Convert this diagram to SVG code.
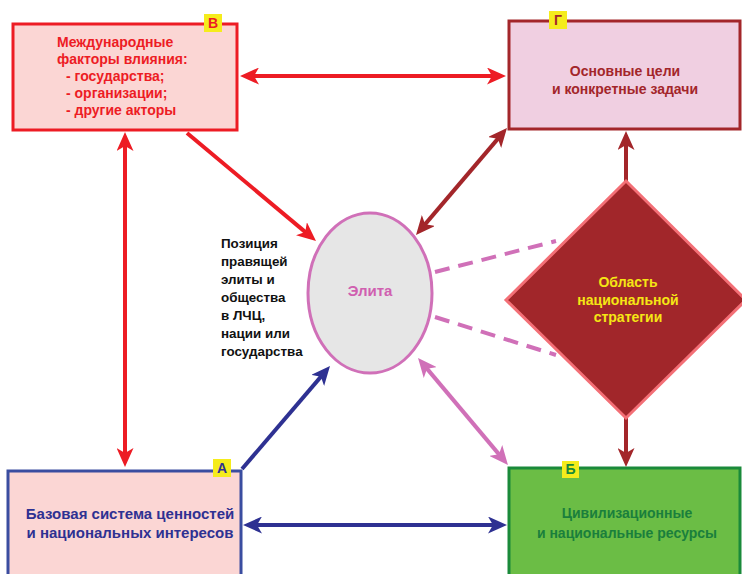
<svg xmlns="http://www.w3.org/2000/svg" width="742" height="574" viewBox="0 0 742 574">
<style>
text{font-family:"Liberation Sans",Arial,sans-serif;font-weight:bold;font-size:14px}
.box{stroke-width:3}
.tag{fill:#f5ec1c}
.c{text-anchor:middle}
.ln{fill:none;stroke-width:4}
.pos{font-size:13.4px}
</style>
<defs>
<marker id="mr" markerUnits="userSpaceOnUse" markerWidth="19" markerHeight="17" viewBox="0 0 19 17" refX="13" refY="8.5" orient="auto-start-reverse"><path d="M0,0 L19,8.5 L0,17 L5,8.5 z" fill="#ed1c24"/></marker>
<marker id="md" markerUnits="userSpaceOnUse" markerWidth="19" markerHeight="17" viewBox="0 0 19 17" refX="13" refY="8.5" orient="auto-start-reverse"><path d="M0,0 L19,8.5 L0,17 L5,8.5 z" fill="#a3262a"/></marker>
<marker id="mb" markerUnits="userSpaceOnUse" markerWidth="19" markerHeight="17" viewBox="0 0 19 17" refX="13" refY="8.5" orient="auto-start-reverse"><path d="M0,0 L19,8.5 L0,17 L5,8.5 z" fill="#2e3192"/></marker>
<marker id="mp" markerUnits="userSpaceOnUse" markerWidth="19" markerHeight="17" viewBox="0 0 19 17" refX="13" refY="8.5" orient="auto-start-reverse"><path d="M0,0 L19,8.5 L0,17 L5,8.5 z" fill="#d070b8"/></marker>
</defs>
<rect width="742" height="574" fill="#ffffff"/>

<g id="connectors">
<line class="ln" x1="246" y1="76" x2="500" y2="76" stroke="#ed1c24" marker-start="url(#mr)" marker-end="url(#mr)"/>
<line class="ln" x1="125" y1="138" x2="125" y2="461" stroke="#ed1c24" marker-start="url(#mr)" marker-end="url(#mr)"/>
<line class="ln" x1="187" y1="133" x2="311.4" y2="237.1" stroke="#ed1c24" marker-end="url(#mr)"/>
<line class="ln" x1="503.1" y1="132.6" x2="419.9" y2="230.4" stroke="#a3262a" marker-start="url(#md)" marker-end="url(#md)"/>
<line class="ln" x1="242" y1="469" x2="326.1" y2="370.6" stroke="#2e3192" marker-end="url(#mb)"/>
<line class="ln" x1="421.9" y1="362.6" x2="504.1" y2="460.4" stroke="#d070b8" marker-start="url(#mp)" marker-end="url(#mp)"/>
<line class="ln" x1="249" y1="525" x2="501" y2="525" stroke="#2e3192" marker-start="url(#mb)" marker-end="url(#mb)"/>
<line class="ln" x1="626" y1="181" x2="626" y2="137" stroke="#a3262a" marker-end="url(#md)"/>
<line class="ln" x1="626" y1="418" x2="626" y2="461" stroke="#a3262a" marker-end="url(#md)"/>
<line class="ln" x1="435" y1="272" x2="556" y2="241" stroke="#d070b8" stroke-dasharray="15 9"/>
<line class="ln" x1="435" y1="317" x2="556" y2="355" stroke="#d070b8" stroke-dasharray="15 9"/>
</g>

<g id="nodeV">
<rect class="box" x="13" y="24" width="224" height="106" fill="#fbd6d4" stroke="#ed1c24"/>
<rect class="tag" x="204" y="14" width="18" height="18"/>
<text x="213" y="28" class="c" fill="#ed1c24">В</text>
<text fill="#ed1c24" x="57" y="47">Международные</text>
<text fill="#ed1c24" x="57" y="64">факторы влияния:</text>
<text fill="#ed1c24" x="66" y="81">- государства;</text>
<text fill="#ed1c24" x="66" y="98">- организации;</text>
<text fill="#ed1c24" x="66" y="115">- другие акторы</text>
</g>

<g id="nodeG">
<rect class="box" x="509" y="21" width="231" height="108" fill="#f0cfe1" stroke="#a3262a"/>
<rect class="tag" x="549" y="11" width="18" height="18"/>
<text x="558" y="25" class="c" fill="#a3262a">Г</text>
<text x="625" y="76" class="c" fill="#a3262a">Основные цели</text>
<text x="625" y="94" class="c" fill="#a3262a">и конкретные задачи</text>
</g>

<g id="nodeA">
<rect class="box" x="8" y="471" width="233" height="110" fill="#fbd6d4" stroke="#3a4da0"/>
<rect class="tag" x="213" y="459" width="18" height="18"/>
<text x="222" y="473" class="c" fill="#2e3192">А</text>
<text x="130" y="519" class="c" fill="#2e3192" style="font-size:15px">Базовая система ценностей</text>
<text x="130" y="538" class="c" fill="#2e3192" style="font-size:15px">и национальных интересов</text>
</g>

<g id="nodeB">
<rect class="box" x="509" y="468" width="231" height="110" fill="#6bbd45" stroke="#1a8a3a"/>
<rect class="tag" x="562" y="461" width="17" height="17"/>
<text x="570.5" y="474" class="c" fill="#1a8a3a">Б</text>
<text x="627" y="518" class="c" fill="#1a7f3c">Цивилизационные</text>
<text x="627" y="538" class="c" fill="#1a7f3c">и национальные ресурсы</text>
</g>

<g id="nodeElite">
<ellipse cx="370" cy="293" rx="62" ry="80" fill="#e6e6e6" stroke="#d070b8" stroke-width="3"/>
<text x="370" y="296" class="c" fill="#d060b0" style="font-size:15px">Элита</text>
</g>

<g id="position">
<text class="pos" fill="#111111" x="221" y="248">Позиция</text>
<text class="pos" fill="#111111" x="221" y="266">правящей</text>
<text class="pos" fill="#111111" x="221" y="284">элиты и</text>
<text class="pos" fill="#111111" x="221" y="302">общества</text>
<text class="pos" fill="#111111" x="221" y="320">в ЛЧЦ,</text>
<text class="pos" fill="#111111" x="221" y="338">нации или</text>
<text class="pos" fill="#111111" x="221" y="356">государства</text>
</g>

<g id="nodeStrategy">
<polygon points="626,181 746,300 626,418 506,300" fill="#a1262a" stroke="#f36f76" stroke-width="3"/>
<text x="628" y="287" class="c" fill="#f5e614">Область</text>
<text x="628" y="305" class="c" fill="#f5e614">национальной</text>
<text x="628" y="322" class="c" fill="#f5e614">стратегии</text>
</g>
</svg>
